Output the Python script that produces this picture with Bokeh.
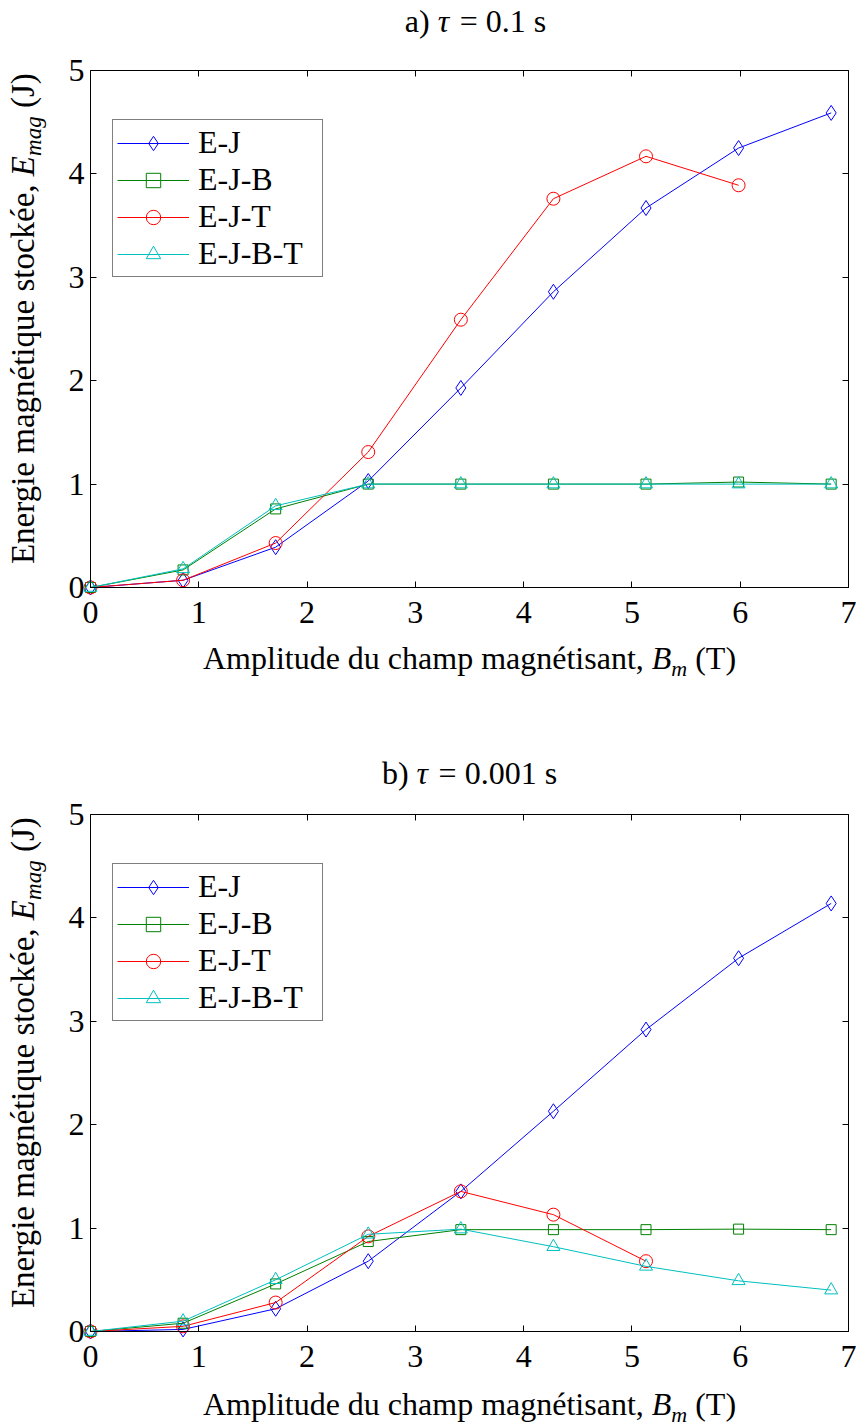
import math
from bokeh.plotting import figure
from bokeh.layouts import column
from bokeh.models import (Range1d, Label, Legend, LegendItem, FixedTicker,
                          LinearAxis)
from bokeh.embed import file_html
from bokeh.resources import INLINE

# ---------------- data ----------------
bm = [0.0, 0.855, 1.71, 2.565, 3.42, 4.275, 5.13, 5.985, 6.84]

# a) tau = 0.1 s
a_ej = [0.0, 0.07, 0.39, 1.03, 1.93, 2.86, 3.67, 4.25, 4.59]
a_ejb = [0.0, 0.17, 0.76, 1.00, 1.00, 1.00, 1.00, 1.02, 1.00]
a_ejt = [0.0, 0.07, 0.43, 1.31, 2.59, 3.76, 4.17, 3.89]
a_ejbt = [0.0, 0.18, 0.79, 1.00, 1.00, 1.00, 1.00, 1.00, 1.00]

# b) tau = 0.001 s
b_ej = [0.0, 0.02, 0.22, 0.68, 1.355, 2.13, 2.92, 3.61, 4.14]
b_ejb = [0.0, 0.08, 0.46, 0.87, 0.985, 0.985, 0.985, 0.99, 0.985]
b_ejt = [0.0, 0.05, 0.28, 0.92, 1.355, 1.13, 0.68]
b_ejbt = [0.0, 0.10, 0.50, 0.94, 0.99, 0.82, 0.63, 0.49, 0.40]

series_names = ["E-J", "E-J-B", "E-J-T", "E-J-B-T"]
series_colors = ["#0000ff", "#008000", "#ff0000", "#00bfbf"]
series_markers = ["diamond", "square", "circle", "triangle"]
series_sizes = [15, 10, 13, 13]

x_ticks = [0, 1, 2, 3, 4, 5, 6, 7]
y_ticks = [0, 1, 2, 3, 4, 5]
X_MIN, X_MAX = 0, 7
Y_MIN, Y_MAX = 0, 5

title_a = ("a)", "\u03c4", "= 0.1 s")
title_b = ("b)", "\u03c4", "= 0.001 s")
xlabel_parts = ("Amplitude du champ magn\u00e9tisant,", "B", "m", "(T)")
ylabel_parts = ("Energie magn\u00e9tique stock\u00e9e,", "E", "mag", "(J)")

# ---------------- layout (pixels) ----------------
W = 856
BOX_L, BOX_R = 90, 848       # data box, canvas x
BOX_H = 517                  # data box height
FONT = "Liberation Serif"
S = 32                       # main text size (px)
SY = 33                      # y-label text size (px)
KB = 0.344                   # baseline correction (fraction of font size)

# Times / Liberation Serif advance widths (1/1000 em)
W_REG = {' ': 250, 'a': 444, 'b': 500, 'c': 444, 'd': 500, 'e': 444, 'g': 500,
         'h': 500, 'i': 278, 'k': 500, 'l': 278, 'm': 778, 'n': 500, 'o': 500,
         'p': 500, 'q': 500, 'r': 333, 's': 389, 't': 278, 'u': 500, 'A': 722,
         'B': 667, 'E': 611, 'J': 389, 'T': 611, '(': 333, ')': 333, ',': 250,
         '=': 564, '.': 250, '0': 500, '1': 500, '\u00e9': 444}
W_IT = {'B': 611, 'E': 611, 'm': 722, 'a': 500, 'g': 500, '\u03c4': 440}


def tw(s, size, table):
    return sum(table.get(c, 500) for c in s) * size / 1000.0


def lab(p, text, x, y, along, across, size, italic=False, align="left",
        vertical=False):
    """along: offset along the text direction; across: offset upward in the
    text's own frame (baseline position)."""
    up = across + KB * size
    if vertical:
        xo, yo, ang = -up, along, math.pi / 2
    else:
        xo, yo, ang = along, up, 0.0
    p.add_layout(Label(x=x, y=y, x_offset=xo, y_offset=yo, text=text,
                       text_font=FONT, text_font_size=f"{size}px",
                       text_font_style="italic" if italic else "normal",
                       text_align=align, text_baseline="alphabetic",
                       angle=ang, text_color="black"))


def sub_label(p, parts, x, y, center, across, size, vertical=False):
    """text, italic symbol, italic subscript, unit -- centred on `center`."""
    t1, sym, sb, unit = parts
    ssz = round(size * 0.7)
    sp = tw(" ", size, W_REG)
    total = (tw(t1, size, W_REG) + sp + tw(sym, size, W_IT)
             + tw(sb, ssz, W_IT) + sp + tw(unit, size, W_REG))
    a0 = center - total / 2 + tw(t1, size, W_REG) + sp
    lab(p, t1, x, y, a0 - sp, across, size, align="right", vertical=vertical)
    lab(p, sym, x, y, a0, across, size, italic=True, vertical=vertical)
    a1 = a0 + tw(sym, size, W_IT)
    lab(p, sb, x, y, a1, across - 0.22 * size, ssz, italic=True,
        vertical=vertical)
    a2 = a1 + tw(sb, ssz, W_IT) + sp
    lab(p, unit, x, y, a2, across, size, vertical=vertical)


def make_axis(ticks, loc, bounds, show_labels, standoff):
    ax = LinearAxis(ticker=FixedTicker(ticks=ticks), fixed_location=loc,
                    bounds=bounds)
    ax.axis_line_color = "black"
    ax.axis_line_width = 1
    ax.major_tick_line_color = "black"
    ax.major_tick_in = 6
    ax.major_tick_out = 0
    ax.minor_tick_in = 0
    ax.minor_tick_out = 0
    ax.major_label_text_font = FONT
    ax.major_label_text_font_size = f"{S}px"
    ax.major_label_standoff = standoff
    ax.major_label_text_color = "black" if show_labels else None
    return ax


def make_fig(height, box_top, title_parts, title_off, title_dx, xlab_off,
             series, legend_left, legend_top):
    box_bottom = box_top + BOX_H
    xs_per_px = (X_MAX - X_MIN) / (BOX_R - BOX_L)
    ys_per_px = (Y_MAX - Y_MIN) / BOX_H
    xr = Range1d(X_MIN - BOX_L * xs_per_px, X_MAX + (W - BOX_R) * xs_per_px)
    yr = Range1d(Y_MIN - (height - box_bottom) * ys_per_px,
                 Y_MAX + box_top * ys_per_px)
    p = figure(width=W, height=height, x_range=xr, y_range=yr,
               output_backend="svg", toolbar_location=None,
               x_axis_location=None, y_axis_location=None,
               min_border=0, background_fill_color="white",
               border_fill_color="white")
    p.grid.visible = False
    p.outline_line_color = None

    p.add_layout(make_axis(x_ticks, Y_MIN, (X_MIN, X_MAX), True, 14), "below")
    p.add_layout(make_axis(x_ticks, Y_MAX, (X_MIN, X_MAX), False, 0), "above")
    p.add_layout(make_axis(y_ticks, X_MIN, (Y_MIN, Y_MAX), True, 6), "left")
    p.add_layout(make_axis(y_ticks, X_MAX, (Y_MIN, Y_MAX), False, 0), "right")

    items = []
    for name, ys, col, mk, sz in zip(series_names, series, series_colors,
                                     series_markers, series_sizes):
        xs = bm[:len(ys)]
        l = p.line(xs, ys, line_color=col, line_width=1)
        s = p.scatter(xs, ys, marker=mk, size=sz, line_color=col,
                      fill_color=None, line_width=1)
        items.append(LegendItem(label=name, renderers=[l, s]))

    leg = Legend(items=items, border_line_color="black", border_line_width=1,
                 background_fill_color="white", background_fill_alpha=1.0,
                 label_text_font=FONT, label_text_font_size=f"{S}px",
                 label_text_color="black",
                 glyph_width=72, glyph_height=36, label_height=36,
                 label_standoff=9, spacing=0, padding=4, margin=0,
                 label_width=120)
    leg_h = 156
    leg.location = (legend_left, height - legend_top - leg_h)
    p.add_layout(leg)

    xc = (X_MIN + X_MAX) / 2
    # title
    t1, t2, t3 = title_parts
    sp = tw(" ", S, W_REG)
    wt = tw(t1, S, W_REG) + sp + tw(t2, S, W_IT) + sp + tw(t3, S, W_REG)
    a = title_dx - wt / 2 + tw(t1, S, W_REG) + sp
    lab(p, t1, xc, Y_MAX, a - sp, title_off, S, align="right")
    lab(p, t2, xc, Y_MAX, a, title_off, S, italic=True)
    lab(p, t3, xc, Y_MAX, a + tw(t2, S, W_IT) + sp, title_off, S)

    # x label
    sub_label(p, xlabel_parts, xc, Y_MIN, 0, -xlab_off, S)
    # y label (rotated)
    sub_label(p, ylabel_parts, X_MIN, Y_MIN, BOX_H / 2 + 10, 56, SY,
              vertical=True)
    return p


fig_a = make_fig(714, 70, title_a, 38, 6, 82, [a_ej, a_ejb, a_ejt, a_ejbt],
                 112, 121)
fig_b = make_fig(714, 100, title_b, 30, 0, 84, [b_ej, b_ejb, b_ejt, b_ejbt],
                 112, 151)

layout = column(fig_a, fig_b, spacing=0)
open("out.html", "w").write(file_html(layout, INLINE))
